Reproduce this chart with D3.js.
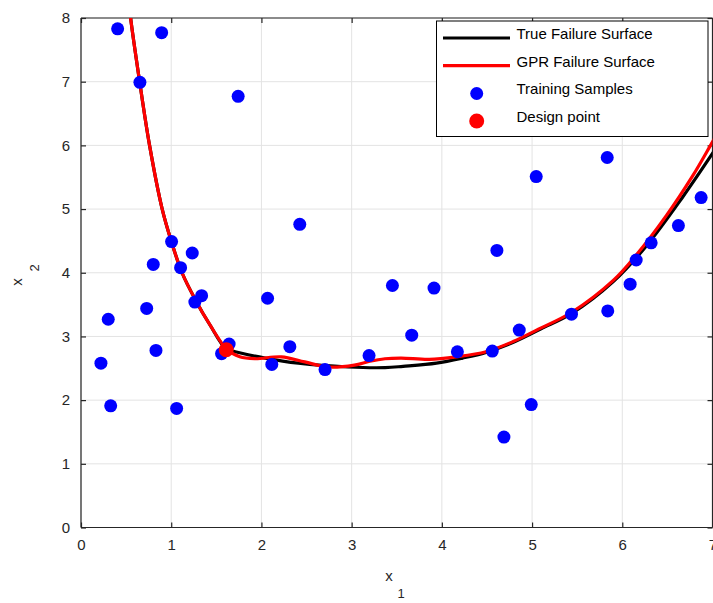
<!DOCTYPE html>
<html>
<head>
<meta charset="utf-8">
<script src="https://cdn.jsdelivr.net/npm/d3@7"></script>
<style>
html,body{margin:0;padding:0;background:#fff;}
svg{display:block;font-family:"Liberation Sans",Arial,sans-serif;}
</style>
</head>
<body>
<div id="chart"></div>
<script>
// ---- Data ----
const xTicks = [0,1,2,3,4,5,6,7];
const yTicks = [0,1,2,3,4,5,6,7,8];

const sampleX = [0.406,0.894,0.653,1.742,0.221,0.302,0.329,0.728,0.801,0.831,1.004,1.104,1.233,1.262,1.337,1.060,1.558,1.642,2.068,2.115,2.315,2.425,2.705,3.193,3.452,3.666,3.913,4.172,4.559,4.610,4.688,4.858,4.991,5.046,5.437,5.833,5.839,6.087,6.154,6.320,6.622,6.874];
const sampleY = [7.83,7.77,6.99,6.77,2.58,3.27,1.91,3.44,4.13,2.78,4.49,4.08,4.31,3.54,3.64,1.87,2.73,2.88,3.60,2.56,2.84,4.76,2.48,2.70,3.80,3.02,3.76,2.76,2.77,4.35,1.42,3.10,1.93,5.51,3.35,5.81,3.40,3.82,4.20,4.47,4.74,5.18];

const trueX = [0.52,0.55,0.65,0.76,0.90,1.00,1.12,1.27,1.43,1.61,1.71,2.04,2.41,2.96,3.37,3.57,3.94,4.23,4.49,4.78,5.10,5.44,5.90,6.26,6.67,7.05];
const trueY = [8.40,8.00,7.00,6.00,5.00,4.50,4.00,3.57,3.18,2.80,2.76,2.66,2.58,2.52,2.51,2.53,2.58,2.66,2.75,2.90,3.12,3.36,3.86,4.41,5.19,5.98];

const gprX = [0.52,0.55,0.65,0.76,0.90,1.00,1.12,1.27,1.43,1.61,1.76,1.93,2.22,2.48,2.74,3.03,3.20,3.37,3.55,3.86,4.16,4.49,4.79,5.05,5.44,5.90,6.15,6.49,6.78,6.97,7.05];
const gprY = [8.40,8.00,7.00,6.00,5.00,4.50,4.00,3.57,3.18,2.81,2.68,2.65,2.68,2.60,2.52,2.55,2.61,2.65,2.66,2.64,2.68,2.76,2.92,3.10,3.38,3.88,4.27,4.90,5.52,5.98,6.18];

const designX = [1.61];
const designY = [2.79];

const legendLabels = ["True Failure Surface","GPR Failure Surface","Training Samples","Design point"];

// ---- Layout ----
const W = 713, H = 603;
const L = 81, R = 712.5, T = 18, B = 527.5;
const axisColor = "#262626";

const svg = d3.select("#chart").append("svg").attr("width", W).attr("height", H);

const x = d3.scaleLinear().domain([0,7]).range([L,R]);
const y = d3.scaleLinear().domain([0,8]).range([B,T]);

svg.append("defs").append("clipPath").attr("id","clip")
  .append("rect").attr("x",L).attr("y",T).attr("width",R-L).attr("height",B-T);

// grid
const grid = svg.append("g");
grid.selectAll("line.gx").data(xTicks).join("line").attr("class","gx")
  .attr("x1",d=>x(d)).attr("x2",d=>x(d)).attr("y1",T).attr("y2",B)
  .attr("stroke","#e3e3e3").attr("stroke-width",1);
grid.selectAll("line.gy").data(yTicks).join("line").attr("class","gy")
  .attr("x1",L).attr("x2",R).attr("y1",d=>y(d)).attr("y2",d=>y(d))
  .attr("stroke","#e3e3e3").attr("stroke-width",1);

// axes (MATLAB box with inward ticks)
const fs = "15px";
const xAxisB = d3.axisBottom(x).tickValues(xTicks).tickSize(-5).tickPadding(12).tickFormat(d3.format("d"));
const xAxisT = d3.axisTop(x).tickValues(xTicks).tickSize(-5).tickFormat("");
const yAxisL = d3.axisLeft(y).tickValues(yTicks).tickSize(-5).tickPadding(11).tickFormat(d3.format("d"));
const yAxisR = d3.axisRight(y).tickValues(yTicks).tickSize(-5).tickFormat("");

function style(g){
  g.selectAll("path.domain").attr("stroke",axisColor).attr("stroke-width",1.2);
  g.selectAll(".tick line").attr("stroke",axisColor).attr("stroke-width",1.2);
  g.selectAll(".tick text").attr("fill",axisColor).style("font-size",fs).style("font-family","'Liberation Sans',Arial,sans-serif");
}
svg.append("g").attr("transform",`translate(0,${B})`).call(xAxisB).call(style)
  .call(g=>g.selectAll("path.domain").attr("d",`M${L},0H${R}`));
svg.append("g").attr("transform",`translate(0,${T})`).call(xAxisT).call(style)
  .call(g=>g.selectAll("path.domain").attr("d",`M${L},0H${R}`));
svg.append("g").attr("transform",`translate(${L},0)`).call(yAxisL).call(style)
  .call(g=>g.selectAll("path.domain").attr("d",`M0,${T}V${B}`));
svg.append("g").attr("transform",`translate(${R},0)`).call(yAxisR).call(style)
  .call(g=>g.selectAll("path.domain").attr("d",`M0,${T}V${B}`));

// curves
const line = d3.line().x(d=>x(d[0])).y(d=>y(d[1])).curve(d3.curveCatmullRom.alpha(0.5));
const plot = svg.append("g").attr("clip-path","url(#clip)");
plot.append("path").datum(trueX.map((v,i)=>[v,trueY[i]]))
  .attr("d",line).attr("fill","none").attr("stroke","#000").attr("stroke-width",3.2);
plot.append("path").datum(gprX.map((v,i)=>[v,gprY[i]]))
  .attr("d",line).attr("fill","none").attr("stroke","#ff0000").attr("stroke-width",3.2);

// samples
svg.append("g").selectAll("circle").data(sampleX.map((v,i)=>[v,sampleY[i]])).join("circle")
  .attr("cx",d=>x(d[0])).attr("cy",d=>y(d[1])).attr("r",6.5).attr("fill","#0000ff");

// design point
svg.append("g").selectAll("circle").data(designX.map((v,i)=>[v,designY[i]])).join("circle")
  .attr("cx",d=>x(d[0])).attr("cy",d=>y(d[1])).attr("r",7.5).attr("fill","#ff0000");

// axis labels
svg.append("text").attr("x",389).attr("y",581).attr("text-anchor","middle")
  .attr("fill",axisColor).style("font-size",fs).text("x");
svg.append("text").attr("x",401).attr("y",598).attr("text-anchor","middle")
  .attr("fill",axisColor).style("font-size","13px").text("1");
svg.append("text").attr("transform","translate(22,282) rotate(-90)").attr("text-anchor","middle")
  .attr("fill",axisColor).style("font-size",fs).text("x");
svg.append("text").attr("transform","translate(39,268) rotate(-90)").attr("text-anchor","middle")
  .attr("fill",axisColor).style("font-size","13px").text("2");

// legend
const lg = svg.append("g");
lg.append("rect").attr("x",436.5).attr("y",21).attr("width",271.5).attr("height",115.5)
  .attr("fill","#fff").attr("stroke","#000").attr("stroke-width",1);
const rowY = [34, 61.7, 89, 116.5];
lg.append("line").attr("x1",443).attr("x2",510).attr("y1",rowY[0]+4).attr("y2",rowY[0]+4)
  .attr("stroke","#000").attr("stroke-width",3.2);
lg.append("line").attr("x1",443).attr("x2",510).attr("y1",rowY[1]+4).attr("y2",rowY[1]+4)
  .attr("stroke","#ff0000").attr("stroke-width",3.2);
lg.append("circle").attr("cx",476.7).attr("cy",rowY[2]+4.5).attr("r",6.5).attr("fill","#0000ff");
lg.append("circle").attr("cx",476.7).attr("cy",rowY[3]+4.5).attr("r",7.5).attr("fill","#ff0000");
lg.selectAll("text").data(legendLabels).join("text")
  .attr("x",516.5).attr("y",(d,i)=>rowY[i]).attr("dy","0.35em")
  .attr("fill","#000").style("font-size","15px").text(d=>d);
</script>
</body>
</html>
